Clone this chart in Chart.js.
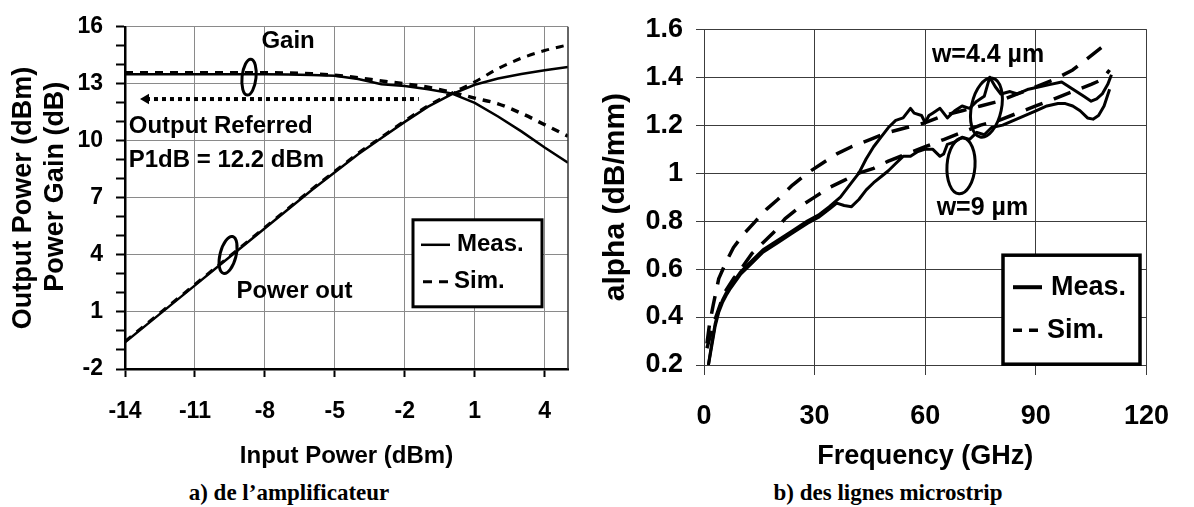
<!DOCTYPE html>
<html>
<head>
<meta charset="utf-8">
<script src="https://cdn.jsdelivr.net/npm/chart.js@4/dist/chart.umd.min.js"></script>
<style>
  body { margin: 0; background: #fff; width: 1194px; height: 507px; position: relative; overflow: hidden; }
  .box { position: absolute; top: 0; width: 597px; height: 475px; }
  #boxA { left: 0; }
  #boxB { left: 597px; }
  .cap { position: absolute; top: 480px; line-height: 26px; font: bold 23px 'Liberation Serif', 'Times New Roman', serif;
         white-space: nowrap; transform: translateX(-50%); color: #000; }
</style>
</head>
<body>
<div class="box" id="boxA"><canvas id="ampChart"></canvas></div>
<div class="box" id="boxB"><canvas id="lineChart"></canvas></div>
<div class="cap" style="left:289px">a) de l’amplificateur</div>
<div class="cap" style="left:888px">b) des lignes microstrip</div>

<script>
// ---- a) amplifier : input power sweep (dBm)
const inputPower   = [-14, -13, -12, -11, -10, -9, -8, -7, -6, -5, -4, -3, -2, -1, 0, 1, 2, 3, 4, 5];
const powerOutMeas = [-0.6, 0.4, 1.4, 2.4, 3.4, 4.4, 5.4, 6.4, 7.4, 8.35, 9.3, 10.15, 11.0, 11.8, 12.45, 12.95, 13.28, 13.52, 13.72, 13.88];
const powerOutSim  = [-0.55, 0.45, 1.45, 2.45, 3.45, 4.45, 5.45, 6.45, 7.45, 8.4, 9.35, 10.2, 11.05, 11.85, 12.5, 13.1, 13.8, 14.35, 14.75, 15.05];
const gainMeas     = [13.5, 13.5, 13.5, 13.5, 13.5, 13.5, 13.5, 13.49, 13.47, 13.42, 13.25, 12.98, 12.88, 12.72, 12.5, 12.0, 11.28, 10.5, 9.65, 8.85];
const gainSim      = [13.58, 13.58, 13.58, 13.58, 13.58, 13.58, 13.58, 13.57, 13.53, 13.45, 13.32, 13.15, 13.0, 12.82, 12.56, 12.25, 11.95, 11.45, 10.85, 10.25];
// output referred P1dB arrow (12.2 dBm)
const p1dbArrowX = [-13.1, -1.4];
const p1dbArrowY = [12.2, 12.2];

const ampXTicks = [-14, -11, -8, -5, -2, 1, 4];
const ampYTicks = [-2, 1, 4, 7, 10, 13, 16];

// ---- b) microstrip lines : attenuation vs frequency (GHz)
const freqMeas44  = [1.2, 2, 3, 4, 5, 6, 7, 10, 13, 16, 20, 24, 28, 31, 34, 37, 40, 42, 44, 46, 48, 50, 52, 54, 56, 57, 59, 60, 61, 62, 64, 66, 68, 70, 72, 74, 76, 77.5, 79, 80.5, 83, 85, 88, 91, 94, 97, 99, 101, 103, 105, 106.5, 108, 109.5, 110.5];
const alphaMeas44 = [0.2, 0.28, 0.37, 0.43, 0.47, 0.5, 0.525, 0.59, 0.635, 0.68, 0.72, 0.76, 0.8, 0.825, 0.86, 0.9, 0.96, 1.0, 1.06, 1.11, 1.15, 1.19, 1.22, 1.23, 1.27, 1.25, 1.24, 1.21, 1.24, 1.25, 1.27, 1.23, 1.26, 1.28, 1.27, 1.3, 1.32, 1.4, 1.36, 1.33, 1.34, 1.33, 1.35, 1.36, 1.37, 1.38, 1.36, 1.34, 1.32, 1.3, 1.31, 1.33, 1.37, 1.41];
const freqMeas9   = [1.2, 2, 3, 4, 5, 6, 7, 10, 13, 16, 20, 24, 28, 31, 34, 36, 38, 40, 42, 44, 46, 48, 50, 52, 54, 56, 58, 60, 62, 64, 65, 66, 68, 70, 72, 74, 76, 78, 81, 84, 87, 90, 93, 96, 98, 100, 102, 104, 105.5, 107, 108.5, 110];
const alphaMeas9  = [0.2, 0.27, 0.36, 0.42, 0.46, 0.49, 0.515, 0.58, 0.625, 0.67, 0.71, 0.75, 0.79, 0.815, 0.85, 0.875, 0.865, 0.86, 0.89, 0.93, 0.96, 0.985, 1.01, 1.04, 1.07, 1.07, 1.09, 1.1, 1.1, 1.07, 1.08, 1.12, 1.13, 1.15, 1.14, 1.17, 1.16, 1.19, 1.2, 1.22, 1.24, 1.26, 1.28, 1.29, 1.29, 1.28, 1.26, 1.23, 1.225, 1.24, 1.28, 1.35];
const freqSim44   = [0.8, 1.5, 2.5, 4, 6, 8, 11, 14, 17, 20, 24, 28, 32, 36, 40, 45, 50, 55, 60, 65, 70, 75, 80, 85, 90, 95, 100, 105, 110];
const alphaSim44  = [0.29, 0.37, 0.45, 0.56, 0.63, 0.69, 0.75, 0.8, 0.85, 0.89, 0.95, 1.0, 1.04, 1.08, 1.11, 1.14, 1.17, 1.19, 1.21, 1.24, 1.26, 1.28, 1.3, 1.33, 1.36, 1.39, 1.43, 1.49, 1.55];
const freqSim9    = [0.8, 1.5, 3, 5.5, 8, 10, 13, 16, 19, 22, 26, 30, 34, 38, 42, 46, 50, 55, 60, 65, 70, 75, 80, 85, 90, 95, 100, 105, 108, 110];
const alphaSim9   = [0.27, 0.31, 0.39, 0.5, 0.56, 0.6, 0.665, 0.71, 0.755, 0.81, 0.86, 0.9, 0.94, 0.97, 1.0, 1.02, 1.05, 1.08, 1.11, 1.14, 1.17, 1.2, 1.22, 1.25, 1.28, 1.31, 1.34, 1.37, 1.39, 1.43];

const lineXTicks = [0, 30, 60, 90, 120];
const lineYTicks = [0.2, 0.4, 0.6, 0.8, 1, 1.2, 1.4, 1.6];
const lineYLabels = ['0.2', '0.4', '0.6', '0.8', '1', '1.2', '1.4', '1.6'];

const legendLabels = ['Meas.', 'Sim.'];

const SANS = "'Liberation Sans', Arial, sans-serif";
Chart.defaults.font.family = SANS;
Chart.defaults.font.weight = 'bold';
Chart.defaults.color = '#000';

const zip = (xs, ys) => xs.map((x, i) => ({ x, y: ys[i] }));
const range = (a, b) => Array.from({ length: b - a + 1 }, (_, i) => a + i);

// draws the things Chart.js has no element for: frame edge, ellipse markers, notes, boxed legend
const overlay = {
  id: 'overlay',
  afterDatasetsDraw(chart, args, opts) {
    const { ctx, chartArea: a, scales: { x, y } } = chart;
    ctx.save();
    if (opts.frameRight) {
      ctx.strokeStyle = opts.frameRight.color;
      ctx.lineWidth = opts.frameRight.width;
      ctx.beginPath();
      ctx.moveTo(a.right, a.top);
      ctx.lineTo(a.right, a.bottom);
      ctx.stroke();
    }
    ctx.strokeStyle = '#000';
    ctx.lineWidth = 3;
    (opts.ellipses || []).forEach(e => {
      ctx.beginPath();
      ctx.ellipse(x.getPixelForValue(e.x), y.getPixelForValue(e.y), e.rx, e.ry, e.rot * Math.PI / 180, 0, 2 * Math.PI);
      ctx.stroke();
    });
    ctx.fillStyle = '#000';
    ctx.textAlign = 'left';
    ctx.textBaseline = 'middle';
    ctx.font = opts.noteFont;
    (opts.notes || []).forEach(n => ctx.fillText(n.text, x.getPixelForValue(n.x), y.getPixelForValue(n.y)));

    const L = opts.legend;
    if (L) {
      const bx = a.left + L.left, by = a.top + L.top;
      ctx.fillStyle = '#fff';
      ctx.fillRect(bx, by, L.w, L.h);
      ctx.lineWidth = L.border;
      ctx.strokeStyle = '#000';
      ctx.strokeRect(bx, by, L.w, L.h);
      ctx.font = L.font;
      L.items.forEach(it => {
        ctx.beginPath();
        ctx.setLineDash(it.dash);
        ctx.lineWidth = it.lw;
        ctx.moveTo(bx + it.x0, by + it.y);
        ctx.lineTo(bx + it.x1, by + it.y);
        ctx.stroke();
        ctx.setLineDash([]);
        ctx.fillStyle = '#000';
        ctx.fillText(it.label, bx + it.tx, by + it.y);
      });
    }
    ctx.restore();
  }
};

function drawAmplifier() {
  const isMajor = c => c.tick && ampYTicks.includes(c.tick.value);
  new Chart(document.getElementById('ampChart'), {
    type: 'line',
    data: {
      datasets: [
        { label: 'Power out meas', data: zip(inputPower, powerOutMeas), borderWidth: 2.5 },
        { label: 'Power out sim', data: zip(inputPower, powerOutSim), borderWidth: 3, borderDash: [8, 7], cubicInterpolationMode: 'monotone' },
        { label: 'Gain meas', data: zip(inputPower, gainMeas), borderWidth: 2.5 },
        { label: 'Gain sim', data: zip(inputPower, gainSim), borderWidth: 3.5, borderDash: [8, 7], cubicInterpolationMode: 'monotone' },
        {
          label: 'P1dB', data: zip(p1dbArrowX, p1dbArrowY), borderWidth: 4, borderDash: [4, 4],
          pointRadius: [6, 0], pointStyle: 'triangle', pointRotation: -90,
          pointBackgroundColor: '#000', pointBorderWidth: 0
        }
      ]
    },
    options: {
      responsive: true,
      maintainAspectRatio: false,
      animation: false,
      layout: { padding: { left: 0, top: 22, right: 29, bottom: 0 } },
      elements: {
        point: { radius: 0 },
        line: { borderColor: '#000', borderCapStyle: 'butt', tension: 0 }
      },
      plugins: {
        legend: { display: false },
        tooltip: { enabled: false },
        overlay: {
          frameRight: { color: '#333', width: 1.5 },
          noteFont: `bold 24px ${SANS}`,
          notes: [
            { text: 'Gain', x: -8.15, y: 15.24 },
            { text: 'Output Referred', x: -13.84, y: 10.76 },
            { text: 'P1dB = 12.2 dBm', x: -13.84, y: 9.0 },
            { text: 'Power out', x: -9.22, y: 2.1 }
          ],
          ellipses: [
            { x: -8.68, y: 13.35, rx: 7, ry: 18, rot: 6 },
            { x: -9.58, y: 4.0, rx: 8, ry: 19, rot: 14 }
          ],
          legend: {
            left: 288, top: 193, w: 129, h: 87, border: 3, font: `bold 24px ${SANS}`,
            items: [
              { label: legendLabels[0], dash: [], lw: 2.5, x0: 8, x1: 37, tx: 44, y: 25 },
              { label: legendLabels[1], dash: [9, 7], lw: 3, x0: 10, x1: 35, tx: 41, y: 62 }
            ]
          }
        }
      },
      scales: {
        x: {
          type: 'linear', min: -14, max: 5,
          afterBuildTicks: s => { s.ticks = ampXTicks.map(v => ({ value: v })); },
          afterFit: s => { s.height = 106; },
          ticks: { autoSkip: false, maxRotation: 0, padding: 21, font: { size: 23, weight: 'bold' }, callback: v => String(v) },
          grid: { color: '#8a8a8a', lineWidth: 1, tickColor: '#000', tickWidth: 2, tickLength: 8 },
          border: { color: '#000', width: 2.5 },
          title: { display: true, text: 'Input Power (dBm)', font: { size: 24, weight: 'bold' }, padding: { top: 0, bottom: 4.6 } }
        },
        y: {
          type: 'linear', min: -2, max: 16,
          afterBuildTicks: s => { s.ticks = range(-2, 16).map(v => ({ value: v })); },
          afterFit: s => { s.width = 125; },
          ticks: { autoSkip: false, padding: 13, font: { size: 23, weight: 'bold' }, callback: v => ampYTicks.includes(v) ? String(v) : '' },
          grid: {
            color: c => isMajor(c) ? '#8a8a8a' : 'rgba(0,0,0,0)',
            lineWidth: 1, tickColor: '#000', tickWidth: 2, tickLength: 9
          },
          border: { color: '#000', width: 2.5 },
          title: {
            display: true, text: ['Output Power (dBm)', '   Power Gain (dB)'],
            font: { size: 27, weight: 'bold', lineHeight: 1.174 }, padding: { top: 7.5, bottom: 0 }
          }
        }
      }
    },
    plugins: [overlay]
  });
}

function drawMicrostrip() {
  new Chart(document.getElementById('lineChart'), {
    type: 'line',
    data: {
      datasets: [
        { label: 'Sim. w=4.4', data: zip(freqSim44, alphaSim44), borderWidth: 3.5, borderDash: [18, 12] },
        { label: 'Sim. w=9', data: zip(freqSim9, alphaSim9), borderWidth: 3.5, borderDash: [18, 12] },
        { label: 'Meas. w=4.4', data: zip(freqMeas44, alphaMeas44), borderWidth: 3 },
        { label: 'Meas. w=9', data: zip(freqMeas9, alphaMeas9), borderWidth: 3 }
      ]
    },
    options: {
      responsive: true,
      maintainAspectRatio: false,
      animation: false,
      layout: { padding: { left: 0, top: 22, right: 32, bottom: 0 } },
      elements: {
        point: { radius: 0 },
        line: { borderColor: '#000', borderCapStyle: 'butt', borderJoinStyle: 'round', tension: 0 }
      },
      plugins: {
        legend: { display: false },
        tooltip: { enabled: false },
        overlay: {
          noteFont: `bold 25px ${SANS}`,
          notes: [
            { text: 'w=4.4 µm', x: 61.8, y: 1.494 },
            { text: 'w=9 µm', x: 63.1, y: 0.853 }
          ],
          ellipses: [
            { x: 76.6, y: 1.273, rx: 15, ry: 30, rot: 12 },
            { x: 69.7, y: 1.03, rx: 14, ry: 28, rot: 4 }
          ],
          legend: {
            left: 299, top: 226, w: 137, h: 109, border: 3.5, font: `bold 27px ${SANS}`,
            items: [
              { label: legendLabels[0], dash: [], lw: 4, x0: 10, x1: 39, tx: 48, y: 32 },
              { label: legendLabels[1], dash: [9, 7], lw: 3.5, x0: 10, x1: 35, tx: 44, y: 75 }
            ]
          }
        }
      },
      scales: {
        x: {
          type: 'linear', min: 0, max: 120,
          afterBuildTicks: s => { s.ticks = lineXTicks.map(v => ({ value: v })); },
          afterFit: s => { s.height = 110; },
          ticks: { autoSkip: false, maxRotation: 0, padding: 25, font: { size: 27, weight: 'bold' }, callback: v => String(v) },
          grid: { color: '#3c3c3c', lineWidth: 1, tickColor: '#3c3c3c', tickLength: 10 },
          border: { color: '#3c3c3c', width: 1 },
          title: { display: true, text: 'Frequency (GHz)', font: { size: 27, weight: 'bold' }, padding: { top: 0, bottom: 1.8 } }
        },
        y: {
          type: 'linear', min: 0.2, max: 1.6,
          afterBuildTicks: s => { s.ticks = lineYTicks.map(v => ({ value: v })); },
          afterFit: s => { s.width = 107; },
          ticks: { autoSkip: false, padding: 13, font: { size: 27, weight: 'bold' }, callback: (v, i) => lineYLabels[i] },
          grid: { color: '#3c3c3c', lineWidth: 1, tickColor: '#3c3c3c', tickLength: 8 },
          border: { color: '#3c3c3c', width: 1 },
          title: { display: true, text: 'alpha (dB/mm)', font: { size: 30, weight: 'bold' }, padding: { top: 1, bottom: 0 } }
        }
      }
    },
    plugins: [overlay]
  });
}

drawAmplifier();
drawMicrostrip();
</script>
</body>
</html>
